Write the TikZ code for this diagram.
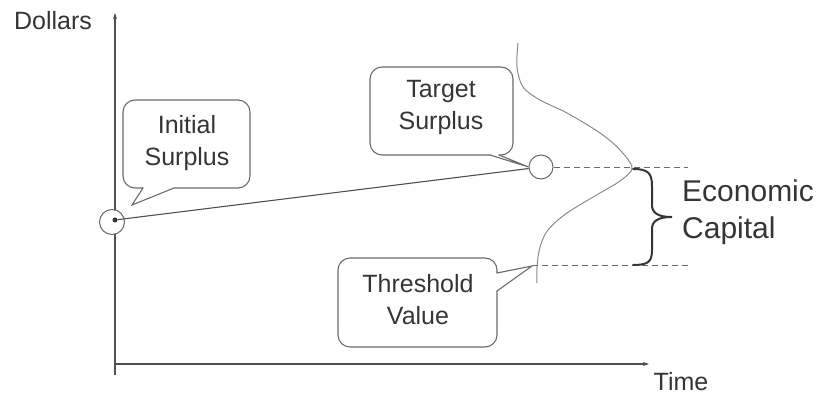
\documentclass[tikz,border=0pt]{standalone}
\usepackage{fontspec}
\setmainfont{Liberation Sans}
\usetikzlibrary{arrows.meta}
\definecolor{ink}{HTML}{353535}
\definecolor{axis}{HTML}{505050}
\definecolor{frame}{HTML}{6A6A6A}
\definecolor{curve}{HTML}{8C8C8C}
\tikzset{
  axisline/.style={draw=axis, line width=1.1pt, -{Stealth[length=6pt,width=4pt]}},
  balloon/.style={draw=frame, line width=1.1pt, rounded corners=12pt, line cap=round},
  wedge/.style={draw=frame, line width=1.1pt, line cap=round, line join=miter},
  label/.style={text=ink, font=\fontsize{25}{32}\selectfont, align=center, inner sep=0pt},
  marker/.style={circle, draw=frame, line width=1pt, fill=white, inner sep=0pt},
  guide/.style={draw=frame, line width=1pt, dash pattern=on 6pt off 4pt},
}
\begin{document}
\begin{tikzpicture}[x=1pt,y=-1pt]
\useasboundingbox (0,0) rectangle (828,398);

% axes
\coordinate (ybot) at (115,375);
\coordinate (ytop) at (115,13);
\coordinate (xleft) at (115,364);
\coordinate (xright) at (649,364);
\draw[axisline] (ybot) -- (ytop);
\draw[axisline] (xleft) -- (xright);
\node[label, font=\fontsize{25}{30}\selectfont] (dollars) at (53,21) {Dollars};
\node[label] (time) at (681,382) {Time};

% distribution of surplus at the horizon
\draw[curve, line width=1pt] plot[smooth, tension=0.55] coordinates {
  (518,43) (517,67) (523,87) (540,100) (567,113) (600,133) (620,150) (632,168)
  (620,181) (600,193) (567,213) (548,230) (540,247) (537,267) (537,283)};

% surplus markers and growth line
\node[marker, minimum size=25pt] (init) at (112,222) {};
\node[circle, fill=ink, inner sep=0pt, minimum size=5pt] (dot) at (115,220) {};
\node[marker, minimum size=24pt] (target) at (541,167) {};
\draw[draw=axis, line width=1.1pt] (dot) -- (target);

% guide lines for the capital band
\coordinate (topend) at (688,168);
\coordinate (thr) at (532,266);
\coordinate (botend) at (688,266);
\draw[guide] (target.east |- topend) -- (topend);
\draw[guide] (thr) -- (botend);

% brace
\draw[draw=ink, line width=2pt, line cap=round]
  (633,169) .. controls (648,169) and (652,173) .. (652,186)
  -- (652,205) .. controls (652,213) and (658,217) .. (672,217)
  .. controls (658,217) and (652,221) .. (652,229)
  -- (652,250) .. controls (652,262) and (648,265) .. (633,265);
\node[label, align=left, anchor=west, font=\fontsize{30}{37}\selectfont] (ecap) at (682,212) {Economic\\Capital};

% callouts: rounded outline plus a sharp wedge pointing at the mark
\coordinate (tipinit) at (132,205);
\draw[balloon] (143,188) -- (123,188) -- (123,100) -- (250,100) -- (250,188) -- (174,188);
\draw[wedge] (143,188) -- (tipinit) -- (174,188);
\node[label] (initlbl) at (187,143) {Initial\\Surplus};

\draw[balloon] (490,155) -- (370,155) -- (370,67) -- (513,67) -- (513,155) -- (499,155);
\draw[wedge] (490,155) -- (target.west) -- (499,155);
\node[label] (targetlbl) at (441,107) {Target\\Surplus};

\draw[balloon] (497,291) -- (497,347) -- (338,347) -- (338,258) -- (497,258) -- (497,273);
\draw[wedge] (497,273) -- (thr) -- (497,291);
\node[label] (thrlbl) at (418,300) {Threshold\\Value};
\end{tikzpicture}
\end{document}
